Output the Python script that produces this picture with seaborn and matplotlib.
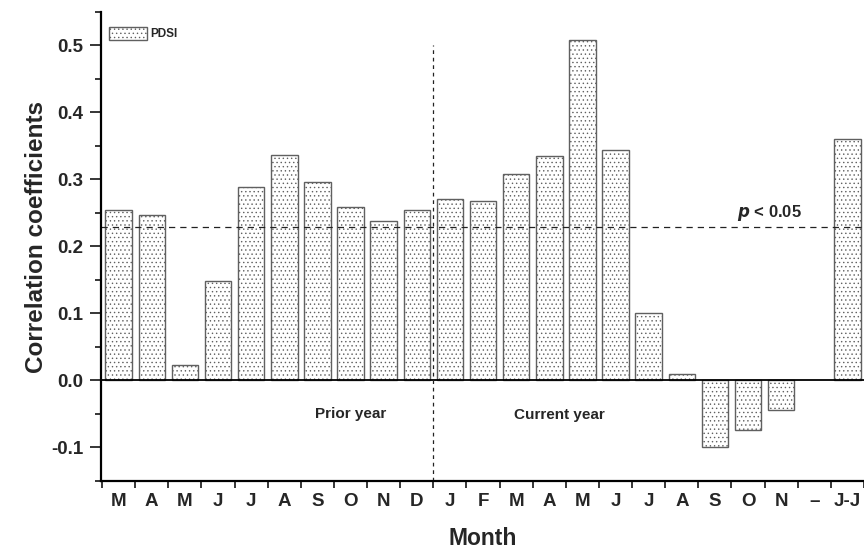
import numpy as np
import pandas as pd
import matplotlib
matplotlib.use("Agg")
import matplotlib.pyplot as plt
import seaborn as sns

months = ["M", "A", "M", "J", "J", "A", "S", "O", "N", "D",
          "J", "F", "M", "A", "M", "J", "J", "A", "S", "O", "N", "\u2013", "J-J"]
pdsi = [0.254, 0.247, 0.023, 0.148, 0.288, 0.336, 0.296, 0.258, 0.238, 0.254,
        0.270, 0.267, 0.308, 0.334, 0.508, 0.343, 0.100, 0.010, -0.100, -0.074, -0.044, np.nan, 0.360]
p_threshold = 0.228

sns.set_theme(style="ticks")
plt.rcParams['font.family'] = ['Liberation Sans', 'DejaVu Sans']
plt.rcParams['hatch.linewidth'] = 0.5

df = pd.DataFrame({"pos": list(range(len(months))), "r": pdsi})

fig = plt.figure(figsize=(8.64, 5.54), dpi=100)
ax = fig.add_axes([0.117, 0.132, 0.883, 0.847])

sns.barplot(data=df, x="pos", y="r", ax=ax, color="white", width=0.8,
            errorbar=None, edgecolor="#606060", linewidth=1.0, label="PDSI")
for p in ax.patches:
    p.set_hatch("....")

ax.set_xlim(-0.53, 22.38)
ax.set_ylim(-0.15, 0.55)

# reference lines
ax.axhline(p_threshold, color="#222222", lw=0.9, ls=(0, (5, 4)))
ax.axhline(0, color="black", lw=1.3)
ax.axvline(9.5, ymin=0, ymax=(0.5 + 0.15) / 0.7, color="#222222", lw=0.9, ls=(0, (3, 3)))

# ticks
n = len(months)
ax.set_xticks(np.arange(-0.5, n - 0.5 + 0.01, 1.0))
ax.set_xticklabels([])
ax.set_xticks(np.arange(n), minor=True)
ax.set_xticklabels(months, minor=True, fontsize=13.5, fontweight="bold")
ax.tick_params(axis="x", which="major", length=5, width=1.3, direction="out")
ax.tick_params(axis="x", which="minor", length=0, pad=9)

ax.set_yticks(np.arange(-0.1, 0.51, 0.1))
ax.set_yticks(np.arange(-0.15, 0.551, 0.05), minor=True)
ax.set_yticklabels([f"{v:.1f}" for v in np.arange(-0.1, 0.51, 0.1)], fontsize=13.5, fontweight="bold")
ax.tick_params(axis="y", which="major", length=8, width=1.3, direction="out", pad=5)
ax.tick_params(axis="y", which="minor", length=4, width=1.3, direction="out")

for s in ["top", "right"]:
    ax.spines[s].set_visible(False)
for s in ["left", "bottom"]:
    ax.spines[s].set_linewidth(1.6)
    ax.spines[s].set_color("black")

ax.set_xlabel("Month", fontsize=16.5, fontweight="bold", labelpad=12)
ax.set_ylabel("Correlation coefficients", fontsize=17.5, fontweight="bold")
ax.yaxis.set_label_coords(-0.07, 0.52)

ax.text(7.0, -0.05, "Prior year", fontsize=11, fontweight="bold", ha="center", va="center")
ax.text(13.3, -0.052, "Current year", fontsize=11, fontweight="bold", ha="center", va="center")
ax.text(19.65, p_threshold + 0.006, r"$\boldsymbol{p}$ < 0.05", fontsize=12, fontweight="bold",
        ha="center", va="bottom")

leg = ax.legend(loc="upper left", bbox_to_anchor=(0.0, 0.985), frameon=False,
                prop={"weight": "bold", "size": 8.5}, handlelength=3.2, handleheight=1.3,
                handletextpad=0.3, borderaxespad=0.3)

fig.savefig("out.png", dpi=100)
